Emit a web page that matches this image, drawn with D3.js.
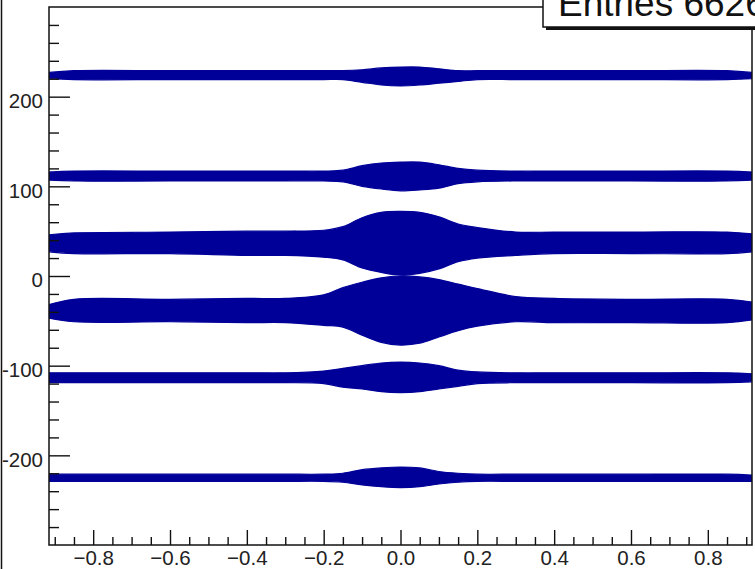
<!DOCTYPE html>
<html><head><meta charset="utf-8">
<script src="https://cdn.jsdelivr.net/npm/d3@7"></script>
<style>html,body{margin:0;padding:0;background:#fff;overflow:hidden}svg{display:block}</style>
</head><body>
<script>
// x sample positions across the band profiles
const xs = [-0.915,-0.85,-0.6,-0.4,-0.3,-0.2,-0.15,-0.1,-0.05,0,0.05,0.1,0.15,0.2,0.3,0.4,0.6,0.85,0.915];
// upper / lower envelopes of each band (y values)
const top1 = [227,229,229,229,229,229,229,230,232,233,233,231,229,229,229,229,229,229,227];
const bot1 = [220,219,219,219,219,219,219,216,213,212,213,215,217,219,219,219,219,219,220];
const top2 = [116,117,117,117,117,117,118,123,126,127,127,124,120,118,117,117,117,117,116];
const bot2 = [107,106,106,106,106,106,105,100,97,95,96,98,103,105,106,106,106,106,107];
const top3 = [46,48,49,50,50,51,55,65,71,72,71,66,58,54,49,49,49,49,47];
const bot3 = [27,25,25,23,23,21,18,9,4,1,3,8,16,20,23,25,25,25,27];
const top4 = [-32,-26,-26,-25,-25,-21,-13,-7,-2,0,-1,-4,-9,-14,-23,-25,-26,-26,-29];
const bot4 = [-47,-51,-51,-52,-52,-55,-57,-66,-74,-77,-75,-68,-61,-56,-51,-52,-52,-52,-49];
const top5 = [-108,-108,-108,-108,-108,-106,-103,-100,-97,-96,-97,-100,-105,-107,-108,-108,-108,-108,-109];
const bot5 = [-119,-119,-119,-119,-119,-120,-124,-126,-129,-130,-129,-126,-123,-120,-119,-119,-119,-119,-118];
const top6 = [-221,-221,-221,-221,-221,-221,-220,-216,-214,-213,-214,-218,-220,-221,-221,-221,-221,-221,-222];
const bot6 = [-229,-229,-229,-229,-229,-229,-230,-233,-235,-236,-235,-232,-230,-229,-229,-229,-229,-229,-229];
const bands = [[top1,bot1],[top2,bot2],[top3,bot3],[top4,bot4],[top5,bot5],[top6,bot6]];

const xMajor = [-0.8,-0.6,-0.4,-0.2,0,0.2,0.4,0.6,0.8];
const yMajor = [-200,-100,0,100,200];
const statsText = "Entries 66268";

const W = 755, H = 569;
const L = 49, R = 752, T = 7, B = 545;
const svg = d3.select("body").append("svg").attr("width", W).attr("height", H);
const x = d3.scaleLinear().domain([-0.915, 0.915]).range([L, R]);
const y = d3.scaleLinear().domain([-300, 300]).range([B, T]);

svg.append("defs").append("clipPath").attr("id","fr")
  .append("rect").attr("x",L).attr("y",T).attr("width",R-L).attr("height",B-T);

const area = d3.area()
  .x((d,i) => x(xs[i]))
  .y0(d => y(d[1]))
  .y1(d => y(d[0]))
  .curve(d3.curveCatmullRom.alpha(0.5));

const g = svg.append("g").attr("clip-path","url(#fr)");
bands.forEach(([tp,bt]) => {
  const data = tp.map((v,i) => [v, bt[i]]);
  g.append("path").attr("d", area(data))
    .attr("fill","#000099").attr("stroke","#000099").attr("stroke-width",1.2)
    .attr("stroke-linejoin","round");
});

// minor ticks
const xMinor = d3.range(-0.9, 0.9001, 0.05).map(v => +v.toFixed(2)).filter(v => !xMajor.some(m => Math.abs(m-v)<1e-6));
const yMinor = d3.range(-280, 281, 20).filter(v => v % 100 !== 0);

const fontF = "'Liberation Sans', Arial, Helvetica, sans-serif";

const xAx = svg.append("g").attr("transform",`translate(0,${B})`)
  .call(d3.axisBottom(x).tickValues(xMajor).tickSize(-15).tickPadding(5));
const xAxm = svg.append("g").attr("transform",`translate(0,${B})`)
  .call(d3.axisBottom(x).tickValues(xMinor).tickSize(-8).tickFormat(""));
const yAx = svg.append("g").attr("transform",`translate(${L},0)`)
  .call(d3.axisLeft(y).tickValues(yMajor).tickSize(-21).tickPadding(6).tickFormat(d => String(d)));
const yAxm = svg.append("g").attr("transform",`translate(${L},0)`)
  .call(d3.axisLeft(y).tickValues(yMinor).tickSize(-10).tickFormat(""));
[xAx,xAxm,yAx,yAxm].forEach(a => {
  a.select(".domain").remove();
  a.selectAll("line").attr("stroke","#111").attr("stroke-width",1.4);
  a.selectAll("text").attr("font-family",fontF).attr("font-size",20.5).attr("fill","#222");
});
yAx.selectAll("text").attr("dy", "0.43em").attr("y", 2);

// frame
svg.append("rect").attr("x",L).attr("y",T).attr("width",R-L).attr("height",B-T)
  .attr("fill","none").attr("stroke","#111").attr("stroke-width",1.5);
// pad left border
svg.append("line").attr("x1",1.5).attr("x2",1.5).attr("y1",0).attr("y2",H)
  .attr("stroke","#111").attr("stroke-width",1.5);

// stats box
const sb = svg.append("g");
sb.append("rect").attr("x",546).attr("y",-20).attr("width",240).attr("height",50).attr("fill","#111");
sb.append("rect").attr("x",543).attr("y",-20).attr("width",240).attr("height",47)
  .attr("fill","#fff").attr("stroke","#111").attr("stroke-width",1.5);
sb.append("text").attr("x",558).attr("y",16).attr("font-family",fontF).attr("font-size",37)
  .attr("fill","#111").text(statsText);
</script>
</body></html>
